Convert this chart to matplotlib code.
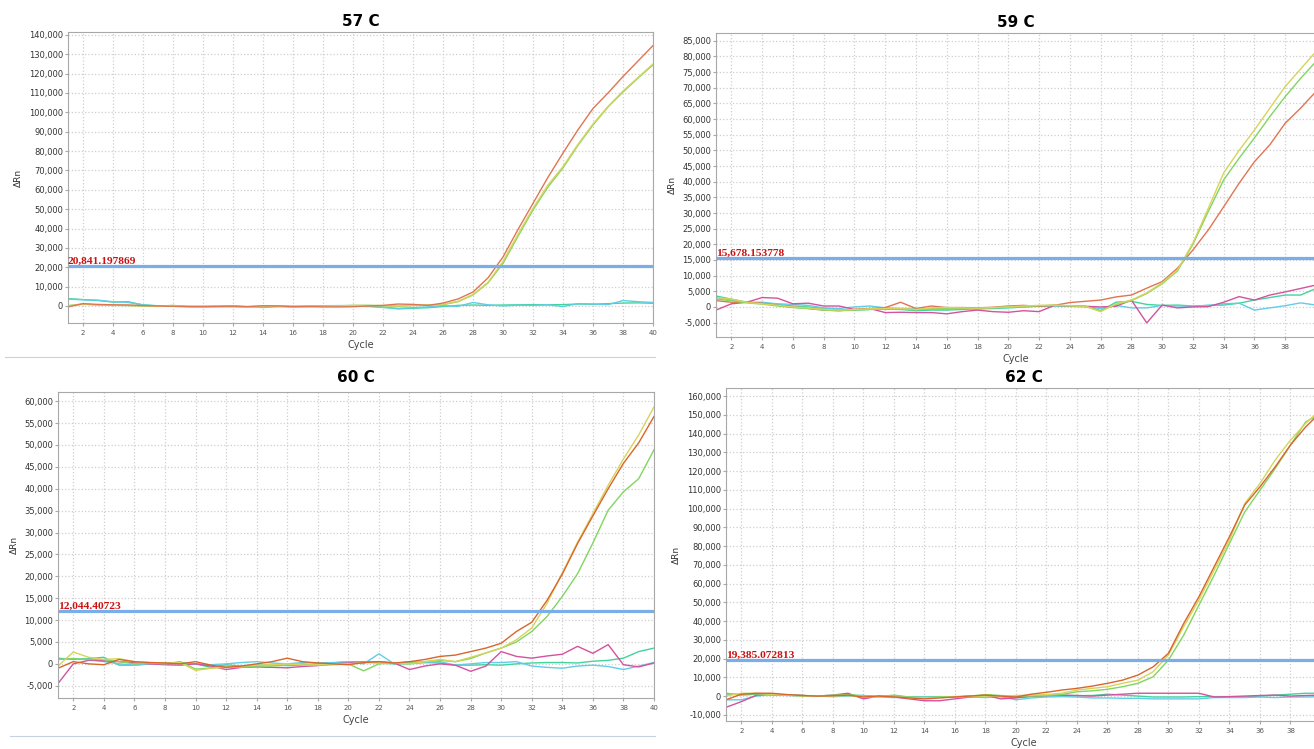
import numpy as np
import matplotlib
matplotlib.use("Agg")
import matplotlib.pyplot as plt
from matplotlib.lines import Line2D
from matplotlib.ticker import FuncFormatter

cycles = np.arange(1, 41)

# ---- 57 C ----
t57_red = [-500, 1200, 800, 600, 500, 200, 0, -200, -300, -300, -200, -100, -300, 100, 0, -300, -200, -500, -500, -400,
           0, 300, 1000, 800, 300, 1500, 3600, 7200, 14500, 25300, 39500, 53000, 66500, 79000, 91000, 102000, 110000, 118500, 126500, 134500]
t57_yellow = [0, 900, 500, 400, 300, 0, -200, 200, -300, -200, -300, -500, -600, -200, -100, -400, -300, -200, 0, 200,
              300, 200, 0, 300, 500, 800, 2400, 5900, 12200, 23000, 37000, 50500, 62500, 72000, 83500, 94000, 103000, 111000, 118000, 125000]
t57_green = [200, 1000, 500, 300, 200, 0, -100, 300, -300, -300, -300, -400, -600, -300, -100, -300, -400, -200, 100, 300,
             300, 100, -100, 200, 500, 700, 2200, 5700, 11900, 22000, 36000, 49600, 61500, 71300, 83000, 93500, 102800, 110500, 117700, 124500]
t57_cyan = [3500, 3200, 3000, 2200, 1800, 600, 100, -200, -300, -300, -200, 0, -500, -800, -400, -200, -100, 100, 200, 100,
            -300, -800, -1200, -900, -500, 200, -200, 1800, 600, 0, 400, 300, 600, -300, 1200, 1000, 700, 2800, 2200, 1800]
t57_teal = [3800, 3300, 2800, 2000, 2200, 500, 0, -100, -300, -400, -300, -200, -400, -100, -200, -500, -300, 0, 100, 200,
            0, -600, -1500, -1200, -900, -300, 300, 500, 300, 500, 600, 700, 600, 700, 1000, 900, 1200, 1500, 1600, 1400]

# ---- 59 C ----
t59_red = [2000, 1500, 1500, 1200, 500, 0, -500, -1000, -1200, -800, -500, -200, 1500, -500, 300, -200, -200, -300, -100, 300,
           500, 200, 500, 1400, 1800, 2200, 3200, 3800, 6000, 8100, 12400, 18200, 24600, 32000, 39500, 46400, 51800, 58700, 63500, 68800]
t59_yellow = [3000, 2500, 1500, 1000, 500, 0, -300, -800, -1000, -800, -600, -500, -500, -800, -300, -200, -300, -400, -200, 0,
              300, 500, 600, 400, 200, -1500, 1000, 2200, 4500, 7700, 11800, 20400, 31500, 42800, 50000, 56500, 63500, 70400, 76000, 81600]
t59_green = [2500, 2000, 1300, 900, 300, -200, -500, -1000, -1200, -1000, -800, -600, -700, -900, -500, -400, -500, -500, -300, 0,
             200, 400, 500, 300, 200, -1200, 800, 2000, 4300, 7400, 11500, 20000, 30500, 40600, 47500, 54000, 60800, 67200, 73000, 78400]
t59_magenta = [-1000, 1000, 1500, 3000, 2800, 1000, 1200, 300, 300, -800, -500, -1800, -1700, -1800, -1800, -2200, -1500, -1000, -1500, -1700,
               -1200, -1500, 500, 300, 200, 0, 200, 2200, -5100, 600, -300, 0, 100, 1500, 3300, 2200, 3800, 4800, 5900, 7000]
t59_teal = [3500, 2500, 1500, 1200, 800, 300, 0, -500, -800, -1000, -800, -700, -800, -1200, -1000, -1000, -800, -600, -500, -300,
            0, 300, 500, 300, 200, -1200, 1500, 1800, 800, 500, 600, 300, 500, 600, 1200, 2200, 3000, 3800, 3800, 5900]
t59_cyan = [3000, 2200, 1500, 1500, 1000, 800, 500, -300, -500, 0, 300, -300, -500, -500, -700, -800, -500, -600, -300, 0,
            0, 200, 300, 200, 0, -500, 500, -300, -300, 500, 300, 200, 500, 1000, 1200, -1000, -300, 400, 1300, 600]

# ---- 60 C ----
t60_red = [-1000, 500, 0, -200, 1000, 500, 300, 200, 0, 500, -300, -800, -500, 0, 500, 1300, 500, 200, 0, -200,
           300, 500, 200, 500, 1000, 1700, 2000, 2800, 3600, 4700, 7400, 9500, 14500, 20500, 27500, 33800, 40000, 45800, 50500, 56500]
t60_yellow = [-500, 2700, 1500, 1000, 1200, 500, 300, 200, 300, -1500, -1000, -800, -500, -300, -200, 0, -300, -200, 0, 0,
              300, 200, 300, 0, 500, 1000, 500, 1500, 2500, 3600, 5500, 8200, 13800, 20800, 27800, 34300, 40800, 46800, 52300, 58700]
t60_green = [1000, 1200, 1000, 1000, 500, 0, 200, 0, 500, -1200, -1000, -500, -800, -500, -500, -300, 0, -300, -200, 0,
             -1600, 0, 200, 300, 500, 800, 500, 1200, 2500, 3600, 5000, 7400, 10800, 15400, 20600, 27600, 35100, 39300, 42300, 48900]
t60_magenta = [-4500, 0, 800, 700, 500, 300, 0, -200, -300, 0, -500, -1300, -800, -700, -800, -900, -600, -400, 0, 200,
               300, 500, 200, -1300, -500, 0, -300, -1700, -500, 2800, 1700, 1300, 1800, 2200, 4000, 2400, 4400, -200, -700, 200]
t60_cyan = [1000, 1200, 1000, 500, 0, -300, 0, 200, 300, 0, -200, 0, 300, 500, 200, 0, 300, 200, 300, 500,
            0, 2300, 0, 500, 300, 500, -300, 0, 300, 300, 500, -500, -800, -1000, -500, -300, -600, -1300, -500, 300]
t60_teal = [1300, 1000, 1200, 1500, -300, -300, 0, 200, 300, 0, -800, -200, -500, -300, -200, -400, -300, 0, 200, 500,
            500, 200, 0, 0, 300, 200, -300, -300, -200, -300, 0, 200, 300, 300, 200, 600, 800, 1300, 2800, 3600]

# ---- 62 C ----
t62_red = [-2000, 1000, 1500, 1500, 800, 300, 0, 200, 500, -500, 0, -500, -1000, -1500, -1000, -500, 0, 500, 0, -500,
           1000, 2000, 3200, 4100, 5300, 6800, 8500, 11200, 15600, 22800, 38700, 53000, 69000, 85000, 101900, 111600, 122300, 133900, 143600, 151500]
t62_yellow = [0, 1500, 1500, 1000, 500, 0, 200, 0, 300, -300, -500, -500, -800, -1000, -800, -500, -300, 0, 0, 300,
              500, 800, 1500, 3200, 4100, 5000, 6800, 8500, 13000, 21900, 37000, 51200, 67200, 83200, 102700, 113400, 125900, 136500, 145500, 153000]
t62_green = [1000, 1000, 1200, 800, 500, 300, 0, 500, 800, 0, -300, 500, -500, -800, -500, -300, 0, 800, 300, 0,
             0, 300, 800, 2300, 2800, 3600, 5000, 6800, 10300, 19200, 32500, 48500, 64500, 81400, 98200, 109800, 121400, 133900, 146300, 150500]
t62_magenta = [-6000, -3000, 500, 1200, 500, 300, 0, 500, 1500, -1500, 0, -500, -1500, -2500, -2500, -1500, -500, 500, -1500, -1000,
               0, 300, 500, 300, 0, 500, 1000, 1500, 1500, 1500, 1500, 1500, -500, -300, 0, 300, 500, 0, 300, 500]
t62_cyan = [-2000, -2000, 0, 800, 300, 0, 0, -300, 0, 300, -500, -800, -500, -500, -500, -300, -500, -800, -300, -2000,
            -1000, -500, -300, -500, -1000, -1000, -1200, -1200, -1500, -1500, -1500, -1500, -800, -800, -800, -500, -800, -500, -500, -300]
t62_teal = [1500, 500, 1000, 500, 500, 300, 0, 0, 500, 300, -300, 0, -500, -500, -300, -500, 0, 300, -300, -800,
            -300, 0, 300, 200, 300, 1000, 500, 0, -500, -500, -500, -300, -300, -300, -500, 0, 500, 1000, 1500, 1500]

titles = ["57 C", "59 C", "60 C", "62 C"]
thresholds = [20841.197869, 15678.153778, 12044.40723, 19385.072813]
threshold_labels = ["20,841.197869", "15,678.153778", "12,044.40723", "19,385.072813"]

c_red, c_yel, c_grn = "#e07552", "#d6d45c", "#80d660"
c_mag, c_cya, c_tea = "#d4529e", "#62cde6", "#42d49c"

panels = [
    dict(series=[(t57_teal, c_tea), (t57_cyan, c_cya), (t57_green, c_grn), (t57_yellow, c_yel), (t57_red, c_red)],
         pos=[68, 32, 653, 323], ylim=(-8800, 141500), yticks=np.arange(0, 140001, 10000),
         xticks=np.arange(2, 41, 2), pad=4),
    dict(series=[(t59_teal, c_tea), (t59_cyan, c_cya), (t59_magenta, c_mag), (t59_red, c_red), (t59_green, c_grn), (t59_yellow, c_yel)],
         pos=[716, 33, 1316, 337], ylim=(-9600, 87500), yticks=np.arange(-5000, 85001, 5000),
         xticks=np.arange(2, 39, 2), pad=4),
    dict(series=[(t60_teal, c_tea), (t60_cyan, c_cya), (t60_magenta, c_mag), (t60_green, c_grn), (t60_yellow, c_yel), (t60_red, "#d9652c")],
         pos=[58, 392, 654, 698], ylim=(-7800, 62100), yticks=np.arange(-5000, 60001, 5000),
         xticks=np.arange(2, 41, 2), pad=7),
    dict(series=[(t62_teal, c_tea), (t62_cyan, c_cya), (t62_magenta, c_mag), (t62_green, c_grn), (t62_yellow, c_yel), (t62_red, "#d9652c")],
         pos=[726, 388, 1321, 721], ylim=(-13300, 164300), yticks=np.arange(-10000, 160001, 10000),
         xticks=np.arange(2, 39, 2), pad=4),
]

W, H = 1314, 749
fig = plt.figure(figsize=(W / 100, H / 100), dpi=100)
fmt = FuncFormatter(lambda v, p: f"{int(v):,}")

for i, p in enumerate(panels):
    x0, y0, x1, y1 = p["pos"]
    ax = fig.add_axes([x0 / W, 1 - y1 / H, (x1 - x0) / W, (y1 - y0) / H])
    ax.set_xlim(1, 40)
    ax.set_ylim(*p["ylim"])
    ax.set_xticks(p["xticks"])
    ax.set_yticks(p["yticks"])
    ax.yaxis.set_major_formatter(fmt)
    ax.grid(True, color="#cfcfcf", linestyle=":", linewidth=0.9)
    ax.set_axisbelow(True)
    for s in ax.spines.values():
        s.set_color("#a8a8a8")
        s.set_linewidth(0.8)
    ax.tick_params(axis="y", labelsize=6, length=2, color="#a8a8a8", pad=1.5, labelcolor="#333333")
    ax.tick_params(axis="x", labelsize=5, length=2, color="#a8a8a8", pad=3, labelcolor="#555555")

    for vals, col in p["series"]:
        ax.plot(cycles, vals, color=col, linewidth=1.0)

    ax.axhline(thresholds[i], color="#7aaee8", linewidth=2.3)
    ax.text(1, thresholds[i], threshold_labels[i], color="#cc1111", fontsize=8.2,
            fontweight="bold", family="Liberation Serif", ha="left", va="bottom")

    ax.set_ylabel("ΔRn", fontsize=6.5, color="#333333", labelpad=4)
    ax.set_xlabel("Cycle", fontsize=7, color="#444444", labelpad=3)
    ax.set_title(titles[i], fontsize=11, fontweight="bold", pad=p["pad"])

# faint legend separator lines
fig.add_artist(Line2D([5 / W, 655 / W], [1 - 357 / H, 1 - 357 / H], color="#c8d2de", linewidth=0.8))
fig.add_artist(Line2D([10 / W, 655 / W], [1 - 736 / H, 1 - 736 / H], color="#c8d2de", linewidth=0.8))

fig.savefig("out.png", dpi=100)
